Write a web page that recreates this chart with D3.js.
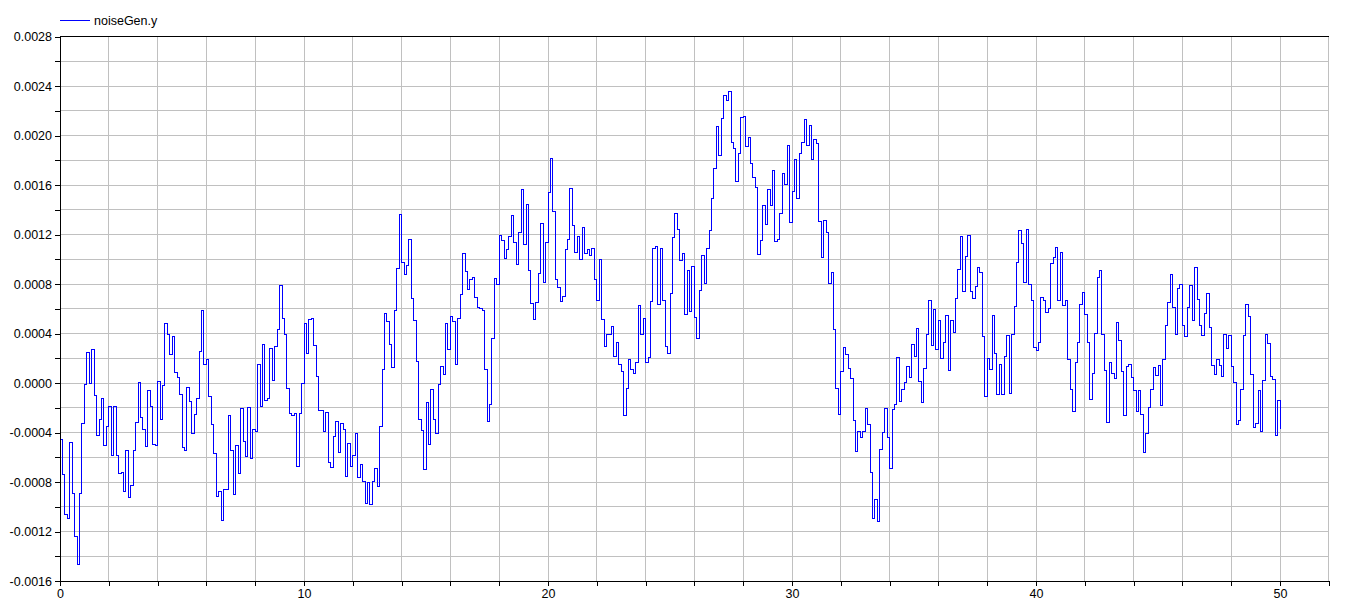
<!DOCTYPE html>
<html>
<head>
<meta charset="utf-8">
<script src="https://cdn.jsdelivr.net/npm/d3@7"></script>
<style>
  html, body { margin: 0; padding: 0; background: #ffffff; }
  svg { display: block; }
  text { font-family: "Liberation Sans", Arial, sans-serif; }
</style>
</head>
<body>
<svg id="chart" width="1354" height="606"></svg>
<script>
// ---------------- data ----------------
const seriesName = "noiseGen.y";
const sampleInterval = 0.1;   // s between samples (step plot)
// noiseGen.y sample values, one per 0.1 s from t = 0 to t = 50
const noiseGenY = [
-0.000455,-0.000738,-0.001061,-0.001094,-0.000479,-0.000892,-0.001242,-0.001465,-0.000892,-0.000329,
-0.000011,0.000248,0.000000,0.000269,-0.000102,-0.000423,-0.000291,-0.000124,-0.000504,-0.000350,
-0.000189,-0.000585,-0.000189,-0.000585,-0.000730,-0.000722,-0.000875,-0.000547,-0.000924,-0.000832,
-0.000544,-0.000318,0.000005,-0.000277,-0.000372,-0.000512,-0.000059,-0.000189,-0.000496,-0.000504,
0.000013,-0.000291,-0.000019,0.000482,0.000388,0.000234,0.000377,0.000081,0.000048,-0.000089,
-0.000520,-0.000544,-0.000035,-0.000148,-0.000407,-0.000253,-0.000129,0.000251,0.000587,0.000151,
0.000191,-0.000108,-0.000334,-0.000568,-0.000919,-0.000875,-0.001115,-0.000859,-0.000859,-0.000261,
-0.000544,-0.000900,-0.000509,-0.000735,-0.000205,-0.000471,-0.000593,-0.000197,-0.000609,-0.000374,
-0.000391,0.000151,-0.000189,0.000312,-0.000140,-0.000124,0.000280,0.000024,0.000296,0.000434,
0.000789,0.000523,0.000393,-0.000048,-0.000245,-0.000261,-0.000245,-0.000673,-0.000245,-0.000003,
0.000482,0.000240,0.000514,0.000523,0.000304,0.000054,-0.000221,-0.000221,-0.000391,-0.000237,
-0.000646,-0.000681,-0.000431,-0.000310,-0.000558,-0.000326,-0.000374,-0.000754,-0.000488,-0.000673,
-0.000582,-0.000407,-0.000762,-0.000657,-0.000795,-0.000972,-0.000805,-0.000980,-0.000795,-0.000690,
-0.000835,-0.000350,0.000110,0.000563,0.000498,0.000312,0.000127,0.000587,0.000927,0.001363,
0.000975,0.000878,0.000951,0.001161,0.000684,0.000506,0.000172,-0.000294,-0.000383,-0.000700,
-0.000156,-0.000496,-0.000051,-0.000294,-0.000407,-0.000011,0.000135,0.000070,0.000482,0.000272,
0.000539,0.000498,0.000151,0.000523,0.000717,0.001048,0.000902,0.000757,0.000838,0.000854,
0.000692,0.000611,0.000603,0.000587,0.000110,-0.000310,-0.000172,0.000361,0.000846,0.000797,
0.001193,0.001153,0.001007,0.001080,0.001185,0.001355,0.001137,0.000959,0.001218,0.001565,
0.001121,0.001444,0.000910,0.000644,0.000514,0.000652,0.000886,0.001290,0.000813,0.001137,
0.001541,0.001815,0.001387,0.000838,0.000773,0.000660,0.000700,0.001080,0.001161,0.001573,
0.001274,0.001056,0.001185,0.000999,0.001258,0.001048,0.001080,0.001032,0.001088,0.000838,
0.000668,0.000999,0.000514,0.000296,0.000393,0.000393,0.000458,0.000215,0.000329,0.000151,
0.000094,-0.000261,-0.000043,0.000191,0.000110,0.000078,0.000167,0.000628,0.000393,0.000523,
0.000167,0.000207,0.000660,0.001088,0.001104,0.000636,0.001088,0.000668,0.000296,0.000240,
0.000725,0.001177,0.001371,0.001242,0.000991,0.001048,0.000555,0.000910,0.000579,0.000943,
0.000531,0.000361,0.000749,0.001032,0.000805,0.001088,0.001234,0.001492,0.001735,0.002074,
0.001840,0.002139,0.002325,0.002284,0.002357,0.001945,0.001896,0.001630,0.001856,0.002147,
0.002155,0.001912,0.001985,0.001775,0.001662,0.001581,0.001040,0.001153,0.001436,0.001282,
0.001565,0.001436,0.001719,0.001145,0.001161,0.001371,0.001694,0.001605,0.001921,0.001298,
0.001549,0.001807,0.001492,0.001856,0.001945,0.002131,0.001921,0.002082,0.001807,0.001969,
0.001937,0.001306,0.001015,0.001314,0.001218,0.000805,0.000894,0.000434,-0.000043,-0.000253,
0.000094,0.000288,0.000232,0.000119,0.000038,-0.000302,-0.000552,-0.000391,-0.000439,-0.000391,
-0.000205,-0.000334,-0.000722,-0.001094,-0.000940,-0.001118,-0.000536,-0.000399,-0.000205,-0.000439,
-0.000689,-0.000213,-0.000172,0.000207,-0.000148,-0.000051,0.000005,0.000135,0.000046,0.000312,
0.000215,0.000442,0.000013,-0.000156,0.000118,0.000393,0.000668,0.000304,0.000595,0.000272,
0.000506,0.000199,0.000329,0.000547,0.000102,0.000506,0.000409,0.000684,0.000919,0.001185,
0.000741,0.001024,0.001193,0.000741,0.000684,0.000781,0.000935,0.000894,0.000377,-0.000108,
0.000199,0.000110,0.000547,0.000240,-0.000092,0.000151,-0.000092,0.000215,0.000385,-0.000084,
0.000393,0.000620,0.000975,0.001234,0.001129,0.000813,0.001242,0.000797,0.000668,0.000288,
0.000264,0.000329,0.000692,0.000668,0.000571,0.000603,0.000967,0.001015,0.001096,0.000668,
0.001056,0.000628,0.000668,0.000191,-0.000051,-0.000229,0.000167,0.000329,0.000636,0.000733,
0.000555,0.000329,-0.000132,0.000078,0.000401,0.000854,0.000910,0.000393,0.000102,-0.000318,
0.000167,0.000078,0.000038,0.000490,0.000345,0.000094,-0.000261,0.000135,0.000151,0.000046,
-0.000059,-0.000229,-0.000059,-0.000253,-0.000560,-0.000407,-0.000197,-0.000051,0.000127,0.000062,
0.000143,-0.000180,0.000191,0.000466,0.000652,0.000878,0.000611,0.000393,0.000765,0.000797,
0.000466,0.000377,0.000611,0.000789,0.000506,0.000935,0.000676,0.000466,0.000385,0.000563,
0.000725,0.000450,0.000143,0.000070,0.000191,0.000143,0.000054,0.000393,0.000280,0.000385,
0.000135,0.000005,-0.000334,-0.000302,-0.000051,0.000385,0.000636,0.000539,0.000070,-0.000358,
-0.000326,-0.000059,-0.000391,0.000022,0.000393,0.000321,0.000054,0.000030,-0.000423,-0.000140,
-0.000374
];

// axes / tick values
const xDomain = [0, 52];
const yDomain = [-0.0016, 0.0028];
const xLabelTicks = [0, 10, 20, 30, 40, 50];
const xGridTicks = [0, 2, 4, 6, 8, 10, 12, 14, 16, 18, 20, 22, 24, 26, 28, 30, 32, 34, 36, 38, 40, 42, 44, 46, 48, 50, 52];
const yLabelTicks = [-0.0016, -0.0012, -0.0008, -0.0004, 0.0000, 0.0004, 0.0008, 0.0012, 0.0016, 0.0020, 0.0024, 0.0028];
const yGridTicks = [-0.0016, -0.0014, -0.0012, -0.0010, -0.0008, -0.0006, -0.0004, -0.0002, 0.0000, 0.0002, 0.0004, 0.0006,
                    0.0008, 0.0010, 0.0012, 0.0014, 0.0016, 0.0018, 0.0020, 0.0022, 0.0024, 0.0026, 0.0028];

// ---------------- drawing ----------------
const svg = d3.select("#chart");
svg.append("rect").attr("width", 1354).attr("height", 606).attr("fill", "#ffffff");

const plot = { left: 60, right: 1328.8, top: 36.5, bottom: 581 };
const x = d3.scaleLinear().domain(xDomain).range([plot.left, plot.right]);
const y = d3.scaleLinear().domain(yDomain).range([plot.bottom, plot.top]);

const gridColor = "#c0c0c0";
// grid
const grid = svg.append("g").attr("shape-rendering", "crispEdges");
grid.selectAll("line.v").data(xGridTicks.filter(d => d > 0)).join("line")
  .attr("x1", d => x(d)).attr("x2", d => x(d))
  .attr("y1", plot.top).attr("y2", plot.bottom)
  .attr("stroke", gridColor).attr("stroke-width", 1);
grid.selectAll("line.h").data(yGridTicks.filter(d => d > yDomain[0] + 1e-9 && d < yDomain[1] - 1e-9)).join("line")
  .attr("x1", plot.left).attr("x2", plot.right)
  .attr("y1", d => y(d)).attr("y2", d => y(d))
  .attr("stroke", gridColor).attr("stroke-width", 1);

// series
const data = noiseGenY.map((v, i) => ({ t: i * sampleInterval, v }));
const line = d3.line().x(d => x(d.t)).y(d => y(d.v)).curve(d3.curveStepAfter);
svg.append("path").datum(data)
  .attr("d", line)
  .attr("fill", "none")
  .attr("stroke", "#0000ff")
  .attr("stroke-width", 1)
  .attr("shape-rendering", "crispEdges");

// axes
const axisFont = "12.5px";
const xAxis = d3.axisBottom(x).tickValues(xGridTicks).tickSize(5).tickSizeOuter(0)
  .tickFormat(d => xLabelTicks.includes(d) ? String(d) : "");
const gx = svg.append("g").attr("transform", `translate(0,${plot.bottom})`).call(xAxis);
gx.select(".domain").attr("stroke", "#000").attr("shape-rendering", "crispEdges");
gx.selectAll(".tick line").attr("stroke", "#000").attr("shape-rendering", "crispEdges");
gx.selectAll(".tick text").attr("font-size", axisFont).attr("fill", "#000")
  .attr("font-family", "'Liberation Sans', Arial, sans-serif").attr("dy", "0.85em").attr("y", 6);

const yAxis = d3.axisLeft(y).tickValues(yGridTicks).tickSize(5).tickSizeOuter(0)
  .tickFormat(d => yLabelTicks.some(v => Math.abs(v - d) < 1e-9) ? d.toFixed(4) : "");
const gy = svg.append("g").attr("transform", `translate(${plot.left},0)`).call(yAxis);
gy.select(".domain").attr("stroke", "#000").attr("shape-rendering", "crispEdges");
gy.selectAll(".tick line").attr("stroke", "#000").attr("shape-rendering", "crispEdges");
gy.selectAll(".tick text").attr("font-size", axisFont).attr("fill", "#000")
  .attr("font-family", "'Liberation Sans', Arial, sans-serif").attr("x", -8);

// top frame line
svg.append("line").attr("x1", plot.left).attr("x2", plot.right)
  .attr("y1", plot.top).attr("y2", plot.top)
  .attr("stroke", "#000").attr("shape-rendering", "crispEdges");

// legend
const legend = svg.append("g");
legend.append("line").attr("x1", 60).attr("x2", 90).attr("y1", 20.5).attr("y2", 20.5)
  .attr("stroke", "#0000ff").attr("stroke-width", 1).attr("shape-rendering", "crispEdges");
legend.append("text").attr("x", 94).attr("y", 21).attr("dy", "0.35em")
  .attr("font-size", axisFont).attr("fill", "#000").text(seriesName);
</script>
</body>
</html>
